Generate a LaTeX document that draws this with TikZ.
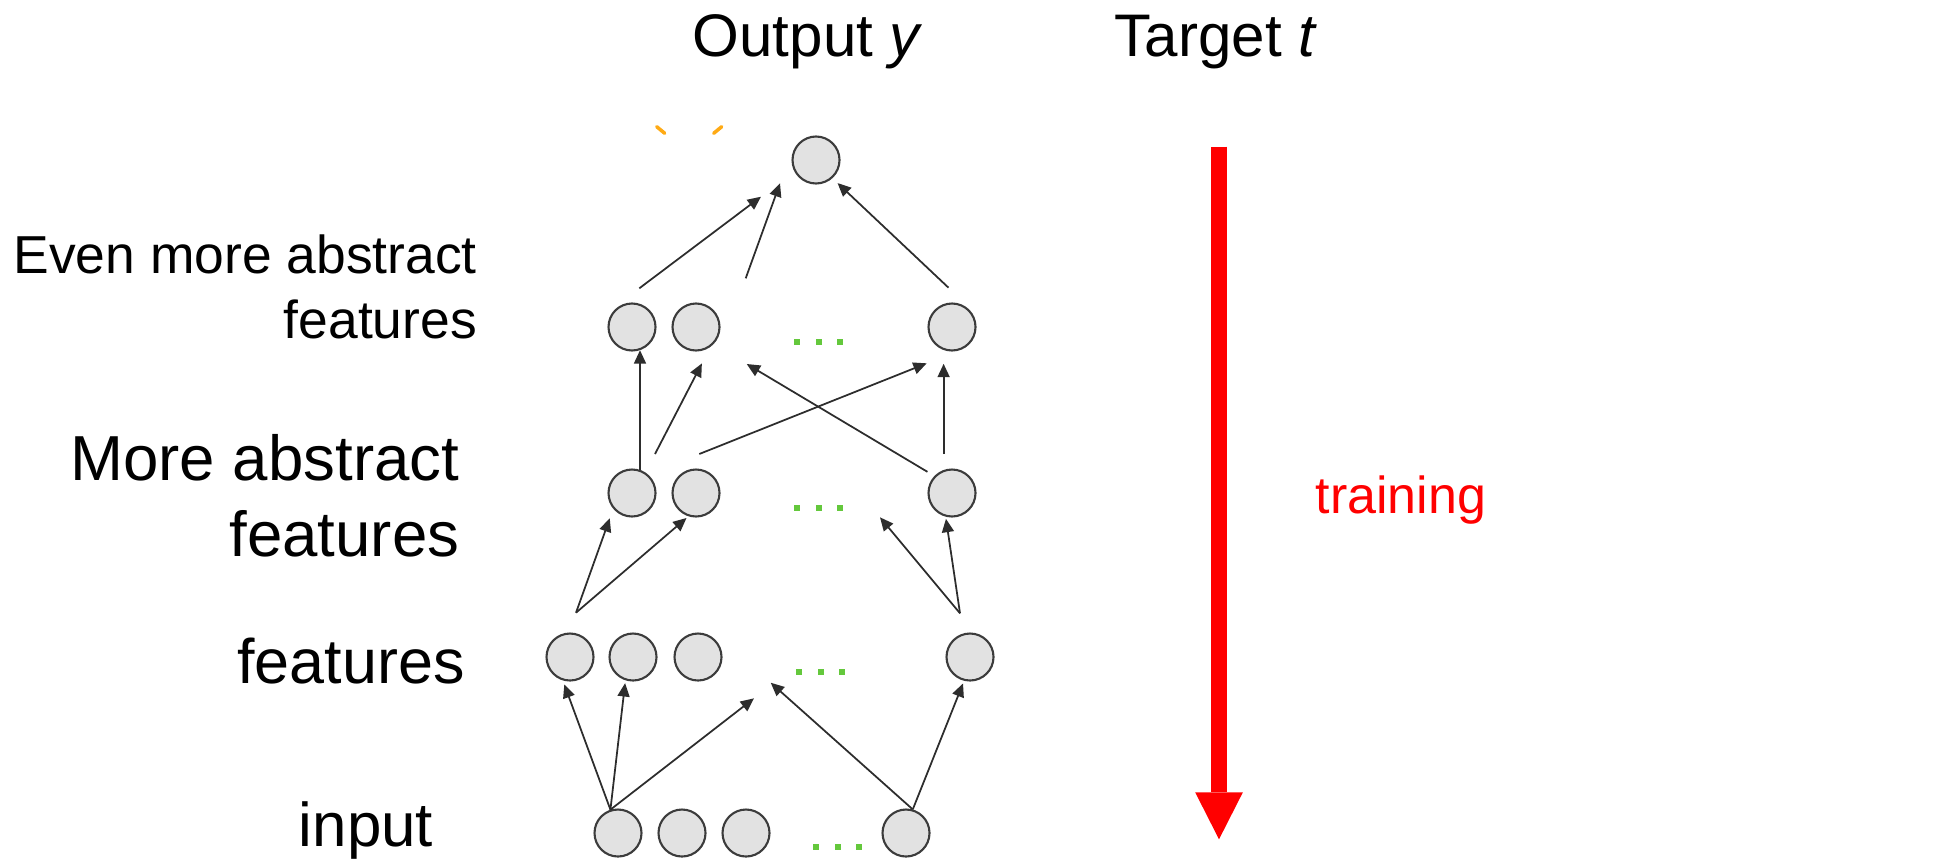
\documentclass[tikz,border=0pt]{standalone}
\usepackage{fontspec}
\setmainfont{Liberation Sans}
\usepackage{xcolor}
\usetikzlibrary{arrows.meta}

\definecolor{unitfill}{RGB}{226,226,226}
\definecolor{unitdraw}{RGB}{60,60,60}
\definecolor{edgegray}{RGB}{45,45,45}
\definecolor{dotgreen}{RGB}{100,200,60}
\definecolor{markorange}{RGB}{255,170,20}

\tikzset{
    unit/.style={circle, draw=unitdraw, fill=unitfill, line width=0.6pt,
        minimum size=0.47cm, inner sep=0pt},
    link/.style={draw=edgegray, line width=0.5pt,
        -{Triangle[length=3.8pt,width=3.4pt]}},
    lbl/.style={inner sep=0pt, align=right},
}

\begin{document}
\begin{tikzpicture}
    \useasboundingbox (0, 0) rectangle (19.44, 8.62);

    % layers of units
    \foreach \n/\x in {in1/6.18, in2/6.82, in3/7.46, in4/9.06}
        \node[unit] (\n) at (\x, 0.29) {};
    \foreach \n/\x in {f1/5.70, f2/6.33, f3/6.98, f4/9.70}
        \node[unit] (\n) at (\x, 2.05) {};
    \foreach \n/\x in {m1/6.32, m2/6.96, m3/9.52}
        \node[unit] (\n) at (\x, 3.69) {};
    \foreach \n/\x in {e1/6.32, e2/6.96, e3/9.52}
        \node[unit] (\n) at (\x, 5.35) {};
    \node[unit] (out) at (8.16, 7.02) {};

    % green dots
    \foreach \x/\y in {7.97/5.20, 7.97/3.54, 7.99/1.90, 8.16/0.15}
        \foreach \k in {0, 1, 2}
            \fill[dotgreen] (\x+0.215*\k-0.03, \y-0.03) rectangle +(0.06, 0.06);

    % loose ends of the links
    \coordinate (fL) at (5.76, 2.493);
    \coordinate (fR) at (9.60, 2.487);
    \coordinate (mL) at (6.55, 4.08);
    \coordinate (mM) at (6.993, 4.08);
    \coordinate (eL) at (6.393, 5.737);
    \coordinate (eM) at (7.457, 5.837);
    \coordinate (eR) at (9.485, 5.743);
    \coordinate (gapF1) at (7.54, 1.637);
    \coordinate (gapF2) at (7.707, 1.793);
    \coordinate (gapM) at (8.80, 3.447);
    \coordinate (gapE) at (7.467, 4.98);
    \coordinate (e3in) at (9.267, 4.987);
    \coordinate (outA) at (7.61, 6.653);
    \coordinate (outB) at (7.80, 6.787);

    % input -> features
    \draw[link, shorten >=1.2pt] (in1.108) -- (f1.253);
    \draw[link, shorten >=0.8pt] (in1.108) -- (f2.252);
    \draw[link] (in1.108) -- (gapF1);
    \draw[link] (in4.74) -- (gapF2);
    \draw[link, shorten >=0.8pt] (in4.74) -- (f4.256);

    % features -> more abstract
    \draw[link, shorten >=2.9pt] (fL) -- (m1.220);
    \draw[link, shorten >=0.7pt] (fL) -- (m2.252);
    \draw[link] (fR) -- (gapM);
    \draw[link, shorten >=0.6pt] (fR) -- (m3.255);

    % more abstract -> even more abstract
    \draw[link] (m1.71) -- (e1.289);
    \draw[link, shorten >=5.3pt] (mL) -- (e2.306);
    \draw[link] (mM) -- (e3in);
    \draw[link, shorten <=2.3pt] (m3.136) -- (gapE);
    \draw[link, shorten <=4.5pt, shorten >=3.9pt] (m3.110) -- (e3.250);

    % even more abstract -> output
    \draw[link] (eL) -- (outA);
    \draw[link] (eM) -- (outB);
    \draw[link, shorten >=2pt] (eR) -- (out.312);

    % orange marks
    \draw[markorange, line width=1pt, line cap=round] (6.567, 7.353) -- (6.647, 7.287);
    \draw[markorange, line width=1pt, line cap=round] (7.217, 7.353) -- (7.137, 7.287);

    % training arrow
    \coordinate (trainS) at (12.19, 7.153);
    \coordinate (trainE) at (12.19, 0.227);
    \draw[red, line width=0.16cm,
        -{Triangle[length=0.47cm, width=0.477cm, line width=0pt]}] (trainS) -- (trainE);

    % texts
    \node[inner sep=0pt, anchor=base west, font=\fontsize{17.1}{20}\selectfont]
        (outlbl) at (6.92, 8.06) {Output \textit{y}};
    \node[inner sep=0pt, anchor=base west, font=\fontsize{17.1}{20}\selectfont]
        (tgtlbl) at (11.14, 8.06) {Target \textit{t}};
    \node[inner sep=0pt, anchor=base west, text=red, font=\fontsize{14.8}{18}\selectfont]
        (trainlbl) at (13.15, 3.487) {training};
    \node[lbl, anchor=base east, font=\fontsize{15.2}{18.3}\selectfont]
        (evenlbl) at (4.775, 5.237) {Even more abstract\\features};
    \node[lbl, anchor=base east, font=\fontsize{18.1}{21.6}\selectfont]
        (morelbl) at (4.60, 3.053) {More abstract\\features};
    \node[lbl, anchor=base east, font=\fontsize{17.9}{21.6}\selectfont]
        (featlbl) at (4.655, 1.787) {features};
    \node[lbl, anchor=base, font=\fontsize{17.6}{21.6}\selectfont]
        (inlbl) at (3.66, 0.153) {input};
\end{tikzpicture}
\end{document}
